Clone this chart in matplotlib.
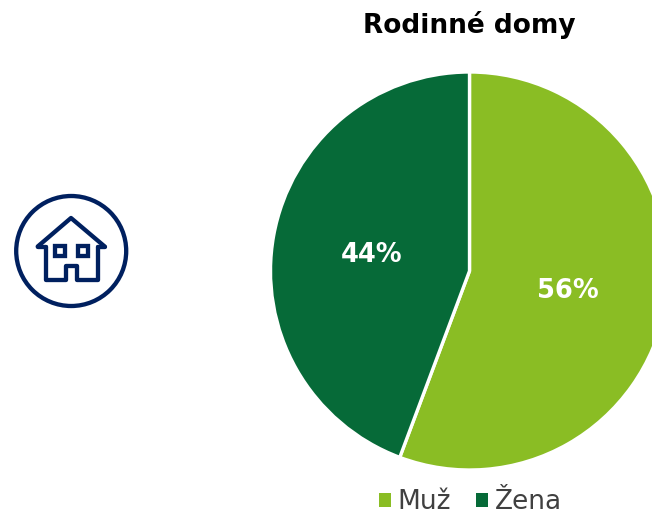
import matplotlib
matplotlib.use("Agg")
import matplotlib.pyplot as plt
from matplotlib.patches import Circle, Rectangle

labels = ["Muž", "Žena"]
shares = [55.7, 44.3]
colors = ["#8abd24", "#066a38"]
title = "Rodinné domy"
navy = "#00205f"

W, H = 652, 515
fig = plt.figure(figsize=(W / 100, H / 100), dpi=100)

# pie axes, runs off the right edge like the original
ax = fig.add_axes([270.5 / W, (H - 470) / H, 398 / W, 398 / H])
wedges, _, pcts = ax.pie(shares, colors=colors, startangle=90, counterclock=False,
                         autopct="%.0f%%", pctdistance=0.5, radius=1,
                         wedgeprops={"edgecolor": "white", "linewidth": 2.4})
ax.set_xlim(-1, 1)
ax.set_ylim(-1, 1)
for t in pcts:
    t.set_color("white")
    t.set_fontweight("bold")
    t.set_fontsize(18.5)
    # labels sit a touch lower in the original
    x, y = t.get_position()
    t.set_position((x, y - 0.01))

fig.text(469.5 / W, 1 - 25 / H, title, ha="center", va="center",
         fontsize=19, fontweight="bold", color="black")

leg = fig.legend(wedges, labels, loc="center", bbox_to_anchor=(470.5 / W, 1 - 502 / H), ncols=2,
                 frameon=False, handlelength=0.45, handleheight=0.45,
                 handletextpad=0.25, columnspacing=0.95, labelcolor="#404040",
                 prop={"family": "DejaVu Sans", "size": 19})
for h in leg.get_patches():
    h.set_linewidth(0)

# house icon in pixel coords
icon = fig.add_axes([0, 0, 1, 1])
icon.set_xlim(0, W)
icon.set_ylim(H, 0)
icon.axis("off")
icon.patch.set_alpha(0)
lw = 3.1
icon.add_patch(Circle((71.2, 251), 55, fill=False, edgecolor=navy, linewidth=lw))
icon.plot([37.7, 71, 104.7], [246.5, 218, 246.5], color=navy, lw=lw,
          solid_capstyle="round", solid_joinstyle="round")
icon.plot([37.7, 45.7], [246.5, 246.5], color=navy, lw=lw, solid_capstyle="round")
icon.plot([97.5, 104.7], [246.5, 246.5], color=navy, lw=lw, solid_capstyle="round")
icon.plot([45.7, 45.7, 66, 66, 76.5, 76.5, 97.5, 97.5],
          [246.5, 279.6, 279.6, 265.5, 265.5, 279.6, 279.6, 246.5],
          color=navy, lw=lw, solid_capstyle="round", solid_joinstyle="round")
for x in (59.5, 83.3):
    icon.add_patch(Rectangle((x - 5, 246), 10, 10, fill=False, edgecolor=navy, linewidth=lw))

fig.savefig("out.png", dpi=100)
